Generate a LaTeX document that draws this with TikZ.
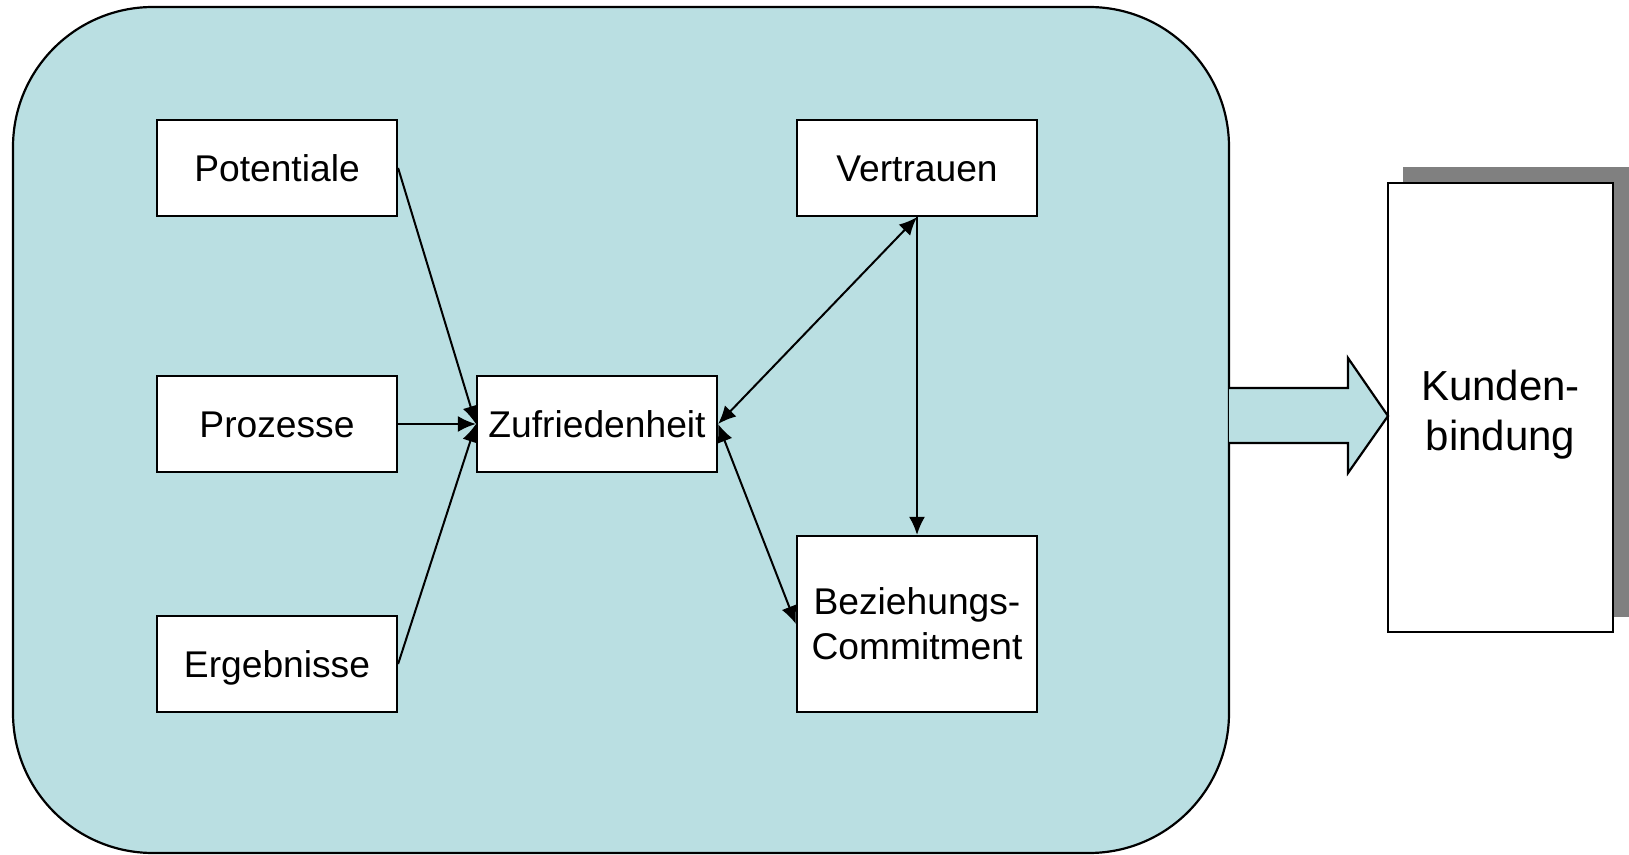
\documentclass[tikz,border=0pt]{standalone}
\usepackage{fontspec}
\setmainfont{Liberation Sans}
\usetikzlibrary{arrows.meta}
\definecolor{panelblue}{RGB}{186,223,226}
\definecolor{shadowgray}{RGB}{128,128,128}
\begin{document}
\begin{tikzpicture}[x=0.5pt,y=-0.5pt,
  box/.style={draw=black, line width=1.1pt, fill=white, inner sep=0pt,
    minimum width=120pt, minimum height=48pt, align=center,
    font=\fontsize{18.6}{22.5}\selectfont},
  oneline/.style={text height=13.3pt, text depth=0pt},
  link/.style={line width=1pt, -{Latex[length=9pt,width=8pt]}},
  duplex/.style={line width=1pt, {Latex[length=9pt,width=8pt]}-{Latex[length=9pt,width=8pt]}}]
  \useasboundingbox (0,0) rectangle (1629,855);

  % background panel
  \node[draw=black, line width=1.1pt, fill=panelblue, rounded corners=70pt,
        minimum width=608pt, minimum height=423pt, inner sep=0pt] (panel) at (621,430) {};

  % factors
  \node[box, oneline] (pot) at (277,168) {Potentiale};
  \node[box, oneline] (pro) at (277,424) {Prozesse};
  \node[box, oneline] (erg) at (277,664) {Ergebnisse};
  \node[box, oneline] (zuf) at (597,424) {Zufriedenheit};
  \node[box, oneline] (ver) at (917,168) {Vertrauen};
  \node[box, minimum height=88pt] (bez) at (917,624) {Beziehungs-\\Commitment};

  % connections
  \draw[link] (pot.east) -- (zuf.west);
  \draw[link] (pro.east) -- (zuf.west);
  \draw[link] (erg.east) -- (zuf.west);
  \draw[duplex] (zuf.east) -- (ver.south);
  \draw[duplex] (zuf.east) -- (bez.west);
  \draw[link] (ver.south) -- (bez.north);

  % outcome box with shadow
  \fill[shadowgray] (1403,167) rectangle (1629,617);
  \node[draw=black, line width=1.1pt, fill=white, inner sep=0pt,
        minimum width=112.5pt, minimum height=224.5pt] (kb) at (1500.5,407.5) {};
  \node[align=center, inner sep=0pt, font=\fontsize{21}{25}\selectfont]
        (kbtext) at ([yshift=-3.5pt]kb.center) {Kunden-\\bindung};

  % block arrow from panel to outcome
  \path[fill=panelblue, draw=black, line width=1.1pt, line join=miter]
    (1229,388) -- (1348,388) -- (1348,358) -- (1388,416)
    -- (1348,473) -- (1348,443) -- (1229,443);
\end{tikzpicture}
\end{document}
